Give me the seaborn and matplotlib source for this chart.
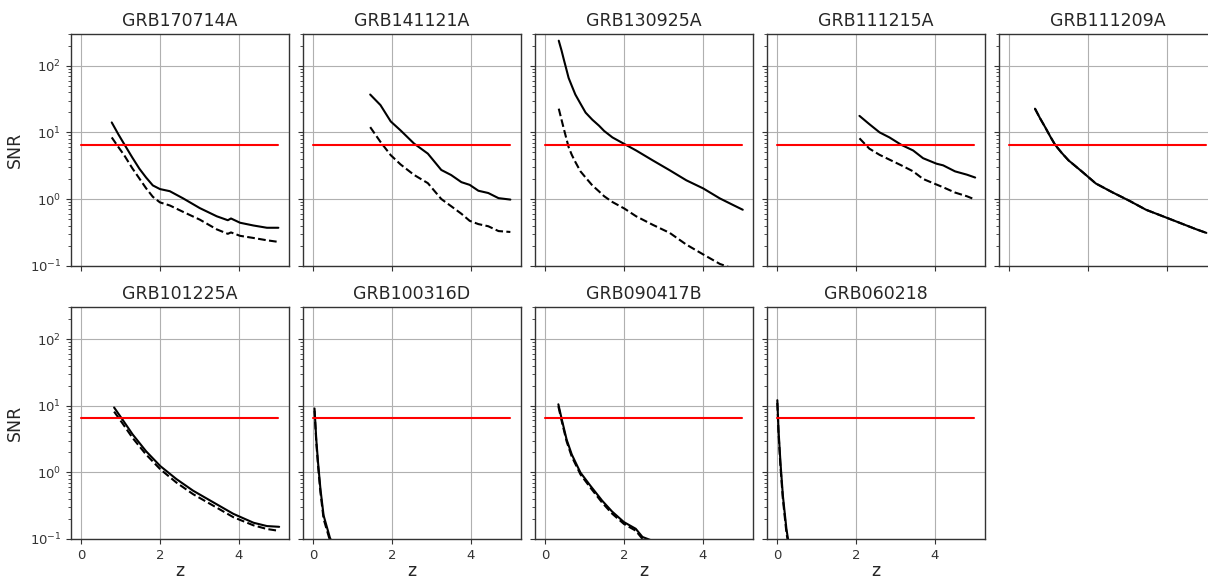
import numpy as np
import pandas as pd
import matplotlib
matplotlib.use("Agg")
import matplotlib.pyplot as plt
import seaborn as sns

# noms des sursauts (un panneau par GRB)
grb_names = ["GRB170714A", "GRB141121A", "GRB130925A", "GRB111215A", "GRB111209A",
             "GRB101225A", "GRB100316D", "GRB090417B", "GRB060218"]

# seuil de détection et plage en z
snr_threshold = 6.5
z_range = [0.0, 5.0]

# courbes : z, SNR (trait plein), SNR (tirets)
z_170714A = [0.78, 0.95, 1.10, 1.30, 1.48, 1.65, 1.82, 2.00, 2.25, 2.59, 3.01, 3.44, 3.72, 3.80, 4.03, 4.37, 4.71, 5.00]
snr_170714A = [14.1, 9.3, 6.6, 4.2, 2.85, 2.1, 1.6, 1.41, 1.31, 1.02, 0.73, 0.55, 0.48, 0.51, 0.44, 0.40, 0.37, 0.37]
snr2_170714A = [8.4, 6.0, 4.5, 2.9, 2.03, 1.45, 1.08, 0.89, 0.80, 0.64, 0.49, 0.35, 0.30, 0.315, 0.28, 0.26, 0.24, 0.227]

z_141121A = [1.45, 1.71, 1.97, 2.22, 2.56, 2.91, 3.25, 3.50, 3.76, 3.97, 4.19, 4.44, 4.70, 5.00]
snr_141121A = [37, 25.7, 14.6, 10.7, 6.8, 4.8, 2.73, 2.29, 1.79, 1.63, 1.33, 1.23, 1.03, 0.98]
snr2_141121A = [12, 7.2, 4.55, 3.3, 2.3, 1.73, 1.0, 0.78, 0.6, 0.47, 0.42, 0.39, 0.33, 0.32]

z_130925A = [0.35, 0.42, 0.48, 0.54, 0.60, 0.68, 0.77, 0.90, 1.03, 1.20, 1.37, 1.50, 1.71, 2.01, 2.31, 2.73, 3.16, 3.58, 4.01, 4.43, 4.77, 5.01]
snr_130925A = [238, 170, 123, 90, 65.6, 50, 37, 27, 19.8, 15.5, 12.6, 10.5, 8.4, 6.7, 5.35, 3.8, 2.7, 1.91, 1.44, 1.02, 0.81, 0.69]
snr2_130925A = [22.7, 15.5, 11.2, 8.2, 6.0, 4.6, 3.6, 2.6, 2.1, 1.6, 1.3, 1.1, 0.9, 0.72, 0.55, 0.41, 0.31, 0.207, 0.147, 0.106, 0.09, 0.075]

z_111215A = [2.09, 2.34, 2.60, 2.85, 3.15, 3.45, 3.70, 4.04, 4.21, 4.51, 4.81, 5.02]
snr_111215A = [17.7, 13.3, 10.0, 8.4, 6.5, 5.35, 4.1, 3.39, 3.2, 2.6, 2.32, 2.1]
snr2_111215A = [8.15, 5.7, 4.6, 3.9, 3.2, 2.6, 2.0, 1.65, 1.5, 1.25, 1.1, 0.98]

z_111209A = [0.66, 0.79, 0.92, 1.05, 1.17, 1.34, 1.51, 1.86, 2.20, 2.62, 3.05, 3.47, 3.90, 4.32, 4.75, 5.00]
snr_111209A = [22.7, 16.2, 11.9, 8.6, 6.5, 4.9, 3.8, 2.55, 1.71, 1.26, 0.94, 0.69, 0.55, 0.44, 0.35, 0.31]
snr2_111209A = snr_111209A

z_101225A = [0.84, 1.06, 1.31, 1.65, 2.01, 2.42, 2.84, 3.35, 3.86, 4.37, 4.71, 5.02]
snr_101225A = [9.4, 6.1, 3.7, 2.07, 1.24, 0.79, 0.53, 0.355, 0.238, 0.175, 0.156, 0.152]
snr2_101225A = [8.15, 5.35, 3.27, 1.85, 1.11, 0.70, 0.47, 0.316, 0.212, 0.16, 0.141, 0.132]

z_100316D = [0.04, 0.085, 0.13, 0.19, 0.27, 0.43, 0.50]
snr_100316D = [9.1, 3.1, 1.39, 0.56, 0.225, 0.104, 0.085]
snr2_100316D = [8.4, 2.8, 1.25, 0.5, 0.2, 0.095, 0.078]

z_090417B = [0.34, 0.43, 0.55, 0.68, 0.90, 1.15, 1.45, 1.70, 2.00, 2.30, 2.47, 2.60, 2.80]
snr_090417B = [10.5, 6.1, 3.09, 1.85, 0.99, 0.63, 0.375, 0.258, 0.179, 0.142, 0.107, 0.1, 0.09]
snr2_090417B = [9.8, 5.7, 2.9, 1.72, 0.93, 0.59, 0.35, 0.24, 0.168, 0.133, 0.1, 0.094, 0.085]

z_060218 = [0.01, 0.04, 0.09, 0.15, 0.24, 0.28, 0.32]
snr_060218 = [12.1, 4.35, 1.39, 0.45, 0.142, 0.1, 0.08]
snr2_060218 = [11.0, 3.9, 1.2, 0.4, 0.125, 0.09, 0.072]

courbes = [
    (z_170714A, snr_170714A, snr2_170714A),
    (z_141121A, snr_141121A, snr2_141121A),
    (z_130925A, snr_130925A, snr2_130925A),
    (z_111215A, snr_111215A, snr2_111215A),
    (z_111209A, snr_111209A, snr2_111209A),
    (z_101225A, snr_101225A, snr2_101225A),
    (z_100316D, snr_100316D, snr2_100316D),
    (z_090417B, snr_090417B, snr2_090417B),
    (z_060218, snr_060218, snr2_060218),
]

# style proche de matplotlib par défaut (petits ticks)
sns.set_theme(style="ticks", rc={
    "axes.edgecolor": "0.2", "xtick.color": "0.2", "ytick.color": "0.2",
    "xtick.major.size": 3.5, "ytick.major.size": 3.5,
    "xtick.minor.size": 2, "ytick.minor.size": 2,
    "xtick.major.width": 0.8, "ytick.major.width": 0.8,
    "xtick.minor.width": 0.6, "ytick.minor.width": 0.6,
    "xtick.major.pad": 3.5, "ytick.major.pad": 3.5,
    "axes.linewidth": 1.0,
})
plt.rcParams["font.family"] = ["DejaVu Sans"]

fig, axes = plt.subplots(2, 5, figsize=(12.08, 5.82), dpi=100, sharex=True, sharey=True)
fig.subplots_adjust(left=0.0588, right=1.0075, top=0.9416, bottom=0.074, wspace=0.064, hspace=0.18)

for i, (nom, (z, snr, snr2)) in enumerate(zip(grb_names, courbes)):
    ax = axes.flat[i]
    df = pd.DataFrame({"z": z, "snr": snr, "snr2": snr2})
    sns.lineplot(data=df, x="z", y="snr2", ax=ax, color="black", linestyle="--", linewidth=1.5)
    sns.lineplot(data=df, x="z", y="snr", ax=ax, color="black", linewidth=1.5)
    sns.lineplot(x=z_range, y=[snr_threshold, snr_threshold], ax=ax, color="red", linewidth=1.5)
    ax.set_yscale("log")
    ax.set_ylim(0.1, 300)
    ax.set_title(nom, fontsize=12.5)
    ax.grid(True, which="major", color="#b0b0b0", linewidth=0.8)
    ax.tick_params(labelsize=9.5)
    ax.set_xlabel("z" if i >= 5 else "", fontsize=12.5, labelpad=0)
    ax.set_ylabel("SNR" if i % 5 == 0 else "", fontsize=12.5)

axes[1, 4].remove()
axes[0, 4].set_xlabel("")
axes[0, 0].set_xticks([0, 2, 4])

plt.savefig("out.png", dpi=100)
